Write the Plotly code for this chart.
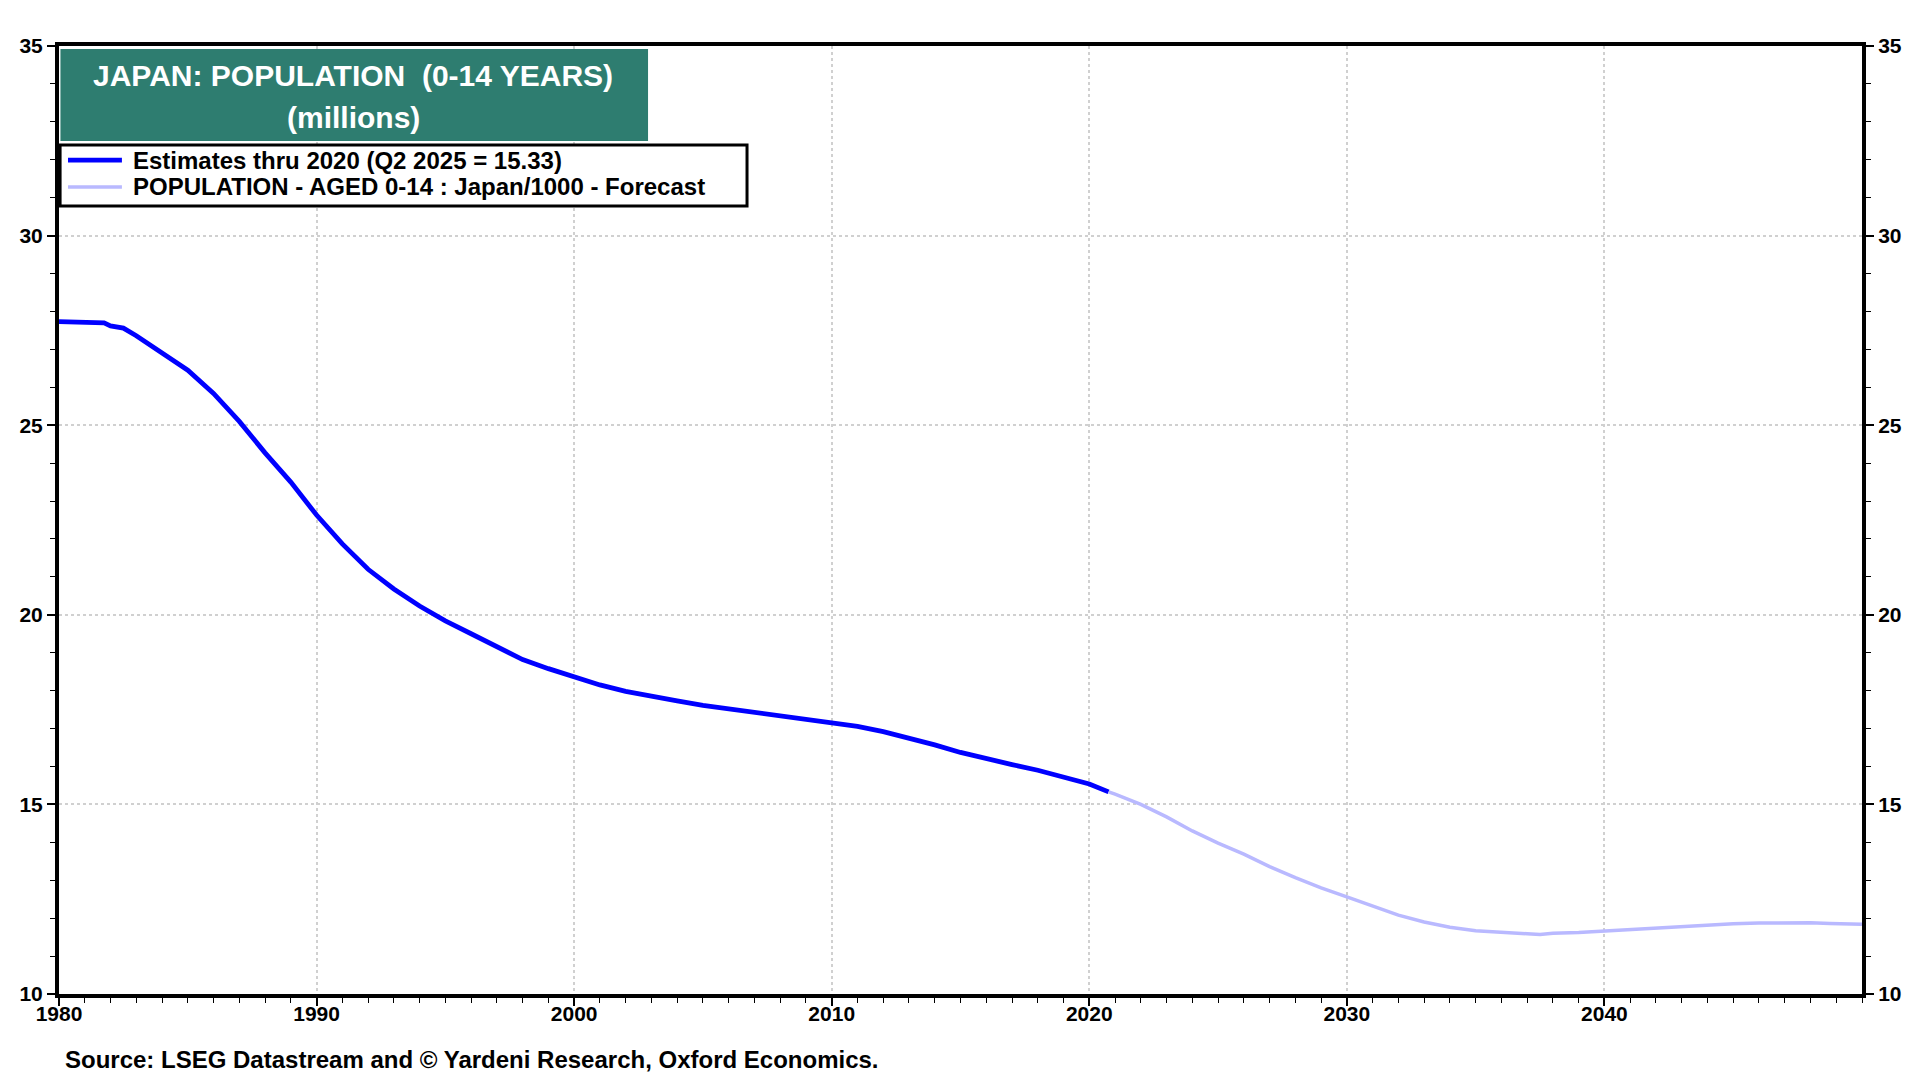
import plotly.graph_objects as go

# ---- data (millions) ----
est_years = [1980.0, 1981.0, 1981.75, 1982.0, 1982.5, 1983.0, 1984.0, 1985.0, 1986.0, 1987.0,
             1988.0, 1989.0, 1990.0, 1991.0, 1992.0, 1993.0, 1994.0, 1995.0, 1996.0, 1997.0,
             1998.0, 1999.0, 2000.0, 2001.0, 2002.0, 2003.0, 2004.0, 2005.0, 2006.0, 2007.0,
             2008.0, 2009.0, 2010.0, 2011.0, 2012.0, 2013.0, 2014.0, 2015.0, 2016.0, 2017.0,
             2018.0, 2019.0, 2020.0, 2020.75]
est_values = [27.73, 27.70, 27.70, 27.62, 27.56, 27.36, 26.90, 26.45, 25.84, 25.10,
              24.27, 23.50, 22.63, 21.87, 21.20, 20.68, 20.23, 19.84, 19.50, 19.16,
              18.82, 18.58, 18.35, 18.15, 17.98, 17.87, 17.73, 17.61, 17.52, 17.44,
              17.35, 17.27, 17.16, 17.06, 16.92, 16.75, 16.57, 16.37, 16.20, 16.05,
              15.90, 15.73, 15.54, 15.33]

fc_years = [2020.75, 2021.0, 2022.0, 2023.0, 2024.0, 2025.0, 2026.0, 2027.0, 2028.0, 2029.0,
            2030.0, 2031.0, 2032.0, 2033.0, 2034.0, 2035.0, 2036.0, 2037.0, 2037.5, 2038.0,
            2039.0, 2040.0, 2041.0, 2042.0, 2043.0, 2044.0, 2045.0, 2046.0, 2047.0, 2048.0,
            2048.75, 2050.0]
fc_values = [15.33, 15.27, 15.00, 14.67, 14.30, 13.98, 13.69, 13.36, 13.07, 12.80,
             12.56, 12.31, 12.08, 11.90, 11.76, 11.67, 11.62, 11.59, 11.57, 11.60,
             11.62, 11.66, 11.70, 11.74, 11.78, 11.82, 11.85, 11.87, 11.88, 11.88,
             11.86, 11.84]

x_tick_vals = [1980, 1990, 2000, 2010, 2020, 2030, 2040]
x_tick_text = ["1980", "1990", "2000", "2010", "2020", "2030", "2040"]
y_tick_vals = [10, 15, 20, 25, 30, 35]

est_name = "Estimates thru 2020 (Q2 2025 = 15.33)"
fc_name = "POPULATION - AGED 0-14 : Japan/1000 - Forecast"
title_line1 = "JAPAN: POPULATION\u00a0\u00a0(0-14 YEARS)"
title_line2 = "(millions)"
source_text = "Source: LSEG Datastream and \u00a9 Yardeni Research, Oxford Economics."

FONT = "Liberation Sans, Arial, sans-serif"
TEAL = "#2E7D70"
GRID = "#D0D0D0"
EST_COLOR = "#0000FF"
FC_COLOR = "#B9B9FF"

fig = go.Figure()
fig.add_trace(go.Scatter(x=est_years, y=est_values, mode="lines", name=est_name,
                         line=dict(color=EST_COLOR, width=4.8), yaxis="y", showlegend=False))
fig.add_trace(go.Scatter(x=fc_years, y=fc_values, mode="lines", name=fc_name,
                         line=dict(color=FC_COLOR, width=3.5), yaxis="y2", showlegend=False))

axis_font = dict(family=FONT, size=21, color="black", weight="bold")

fig.update_layout(
    width=1912, height=1072,
    margin=dict(l=51, r=58, t=38, b=86),
    paper_bgcolor="white", plot_bgcolor="white",
    showlegend=False,
    xaxis=dict(range=[1980, 2050], tickvals=x_tick_vals, ticktext=x_tick_text,
               showgrid=True, gridcolor=GRID, griddash="dot", gridwidth=2,
               showline=True, linecolor="black", linewidth=4, mirror=True,
               ticks="outside", ticklen=8, tickwidth=1.5, tickcolor="black",
               minor=dict(dtick=1, ticks="outside", ticklen=5, tickwidth=1.2,
                          tickcolor="black", showgrid=False),
               tickfont=axis_font, zeroline=False, ticklabelstandoff=-10),
    yaxis=dict(range=[10, 35], tickvals=y_tick_vals,
               showgrid=True, gridcolor=GRID, griddash="dot", gridwidth=2,
               showline=True, linecolor="black", linewidth=4,
               ticks="outside", ticklen=8, tickwidth=1.5, tickcolor="black",
               minor=dict(dtick=1, ticks="outside", ticklen=5, tickwidth=1.2,
                          tickcolor="black", showgrid=False),
               tickfont=axis_font, zeroline=False, side="left"),
    yaxis2=dict(range=[10, 35], tickvals=y_tick_vals, overlaying="y", side="right",
                showgrid=False,
                showline=True, linecolor="black", linewidth=4,
                ticks="outside", ticklen=8, tickwidth=1.5, tickcolor="black",
                minor=dict(dtick=1, ticks="outside", ticklen=5, tickwidth=1.2,
                           tickcolor="black", showgrid=False),
                tickfont=axis_font, zeroline=False),
)

# title box
fig.add_shape(type="rect", xref="paper", yref="paper",
              x0=0.0008, x1=0.3267, y0=0.8998, y1=0.9968,
              fillcolor=TEAL, line=dict(width=0), layer="above")
fig.add_annotation(xref="paper", yref="paper", x=0.1633, y=0.9694,
                   xanchor="center", yanchor="middle", showarrow=False,
                   text=title_line1, align="center",
                   font=dict(family=FONT, size=30, color="white", weight="bold"))
fig.add_annotation(xref="paper", yref="paper", x=0.1633, y=0.9245,
                   xanchor="center", yanchor="middle", showarrow=False,
                   text=title_line2, align="center",
                   font=dict(family=FONT, size=30, color="white", weight="bold"))

# legend box (drawn by hand to match the original spacing)
fig.add_shape(type="rect", xref="paper", yref="paper",
              x0=0.0006, x1=0.3816, y0=0.8312, y1=0.8956,
              fillcolor="white", line=dict(color="black", width=3), layer="above")
legend_entries = [(est_name, EST_COLOR, 4.8, 0.8797), (fc_name, FC_COLOR, 3.5, 0.8513)]
for name, color, width, ypos in legend_entries:
    fig.add_shape(type="line", xref="paper", yref="paper",
                  x0=0.005, x1=0.0349, y0=ypos, y1=ypos,
                  line=dict(color=color, width=width), layer="above")
    fig.add_annotation(xref="paper", yref="paper", x=0.0400, y=ypos,
                       xanchor="left", yanchor="middle", showarrow=False,
                       text=name, align="left",
                       font=dict(family=FONT, size=24, color="black", weight="bold"))

# source
fig.add_annotation(xref="paper", yref="paper", x=0.002, y=-0.0686,
                   xanchor="left", yanchor="middle", showarrow=False,
                   text=source_text, align="left",
                   font=dict(family=FONT, size=24, color="black", weight="bold"))

fig.write_html("out.html")
